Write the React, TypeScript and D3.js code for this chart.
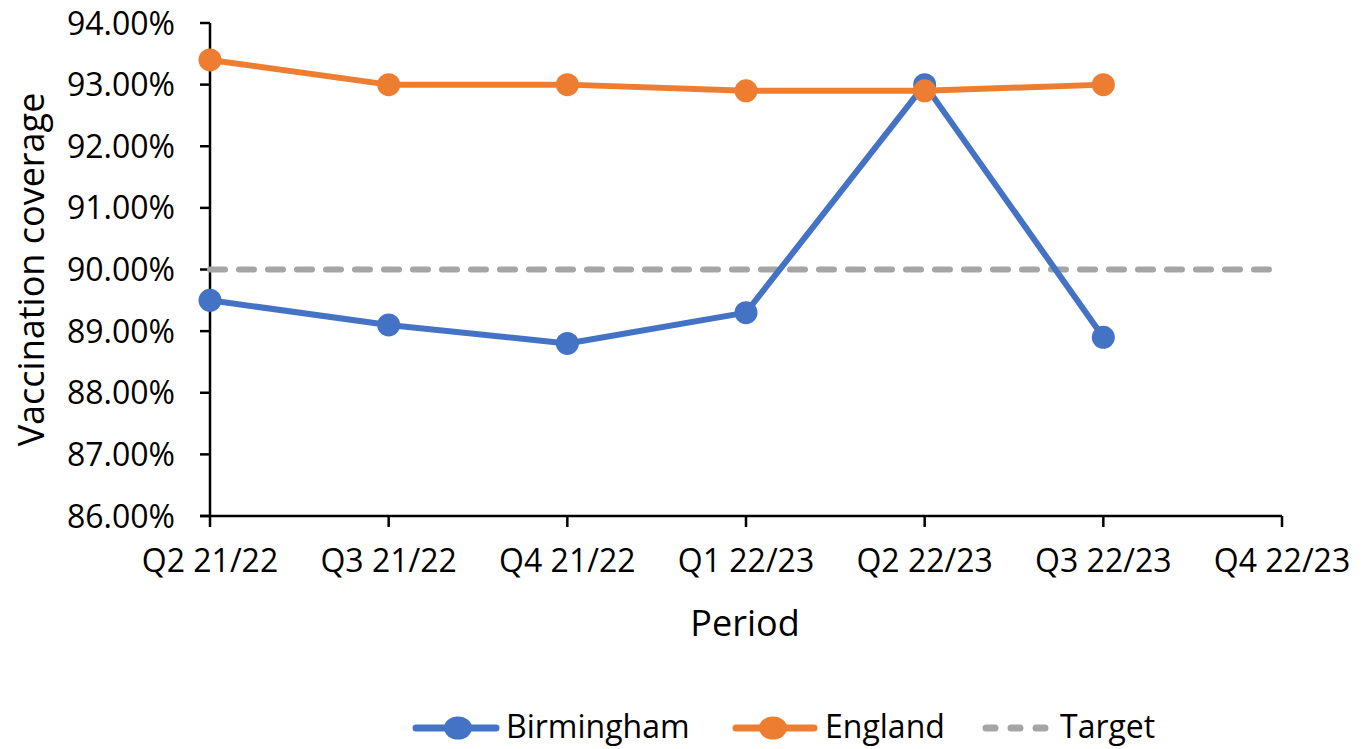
import React from "react";
import * as d3 from "d3";

const categories = ["Q2 21/22", "Q3 21/22", "Q4 21/22", "Q1 22/23", "Q2 22/23", "Q3 22/23", "Q4 22/23"];
const birmingham = [89.5, 89.1, 88.8, 89.3, 93.0, 88.9];
const england = [93.4, 93.0, 93.0, 92.9, 92.9, 93.0];
const target = [90, 90, 90, 90, 90, 90, 90];
const yTicks = [86, 87, 88, 89, 90, 91, 92, 93, 94];

const BLUE = "#4472C4";
const ORANGE = "#ED7D31";
const GRAY = "#A5A5A5";
const FONT = "'Open Sans', sans-serif";

export default function App() {
  const W = 1366, H = 749;
  const left = 210, right = 1282, top = 23, bottom = 516;
  const x = d3.scalePoint<string>().domain(categories).range([left, right]);
  const y = d3.scaleLinear().domain([86, 94]).range([bottom, top]);
  const line = d3.line<number>().x((_, i) => x(categories[i])!).y((d) => y(d));
  const ly = 728;

  return (
    <svg width={W} height={H} style={{ position: "absolute", left: 0, top: 0, background: "#fff" }} fontFamily={FONT}>
      {/* axes */}
      <line x1={left} x2={left} y1={top} y2={bottom} stroke="#000" strokeWidth={2.5} />
      <line x1={left - 10} x2={right} y1={bottom} y2={bottom} stroke="#000" strokeWidth={2.5} />
      {yTicks.map((t) => (
        <g key={t}>
          <line x1={left - 10} x2={left} y1={y(t)} y2={y(t)} stroke="#000" strokeWidth={2.5} />
          <text x={175} y={y(t)} dy="0.36em" textAnchor="end" fontSize={32} fill="#000">
            {t.toFixed(2) + "%"}
          </text>
        </g>
      ))}
      {categories.map((c) => (
        <g key={c}>
          <line x1={x(c)!} x2={x(c)!} y1={bottom} y2={bottom + 11} stroke="#000" strokeWidth={2.5} />
          <text x={x(c)!} y={572} textAnchor="middle" fontSize={32} fill="#000">
            {c}
          </text>
        </g>
      ))}
      <text transform={`translate(44,${(top + bottom) / 2}) rotate(-90)`} textAnchor="middle" fontSize={36} fill="#000">
        Vaccination coverage
      </text>
      <text x={745} y={636} textAnchor="middle" fontSize={36} fill="#000">
        Period
      </text>

      {/* target */}
      <path d={line(target)!} fill="none" stroke={GRAY} strokeWidth={6} strokeDasharray="15 14" strokeLinecap="round" />
      {/* Birmingham */}
      <path d={line(birmingham)!} fill="none" stroke={BLUE} strokeWidth={6} strokeLinejoin="round" />
      {birmingham.map((v, i) => (
        <circle key={"b" + i} cx={x(categories[i])!} cy={y(v)} r={11.5} fill={BLUE} />
      ))}
      {/* England */}
      <path d={line(england)!} fill="none" stroke={ORANGE} strokeWidth={6} strokeLinejoin="round" />
      {england.map((v, i) => (
        <circle key={"e" + i} cx={x(categories[i])!} cy={y(v)} r={11.5} fill={ORANGE} />
      ))}

      {/* legend */}
      <g>
        <line x1={416} x2={496} y1={ly} y2={ly} stroke={BLUE} strokeWidth={7} strokeLinecap="round" />
        <ellipse cx={458} cy={ly} rx={14} ry={11.5} fill={BLUE} />
        <text x={506} y={738} fontSize={32} fill="#000">Birmingham</text>
        <line x1={736} x2={814} y1={ly} y2={ly} stroke={ORANGE} strokeWidth={7} strokeLinecap="round" />
        <ellipse cx={773} cy={ly} rx={14} ry={11.5} fill={ORANGE} />
        <text x={825} y={738} fontSize={32} fill="#000">England</text>
        <line x1={986} x2={1045} y1={ly} y2={ly} stroke={GRAY} strokeWidth={7} strokeDasharray="9 16" strokeLinecap="round" />
        <text x={1060} y={738} fontSize={32} fill="#000">Target</text>
      </g>
    </svg>
  );
}
